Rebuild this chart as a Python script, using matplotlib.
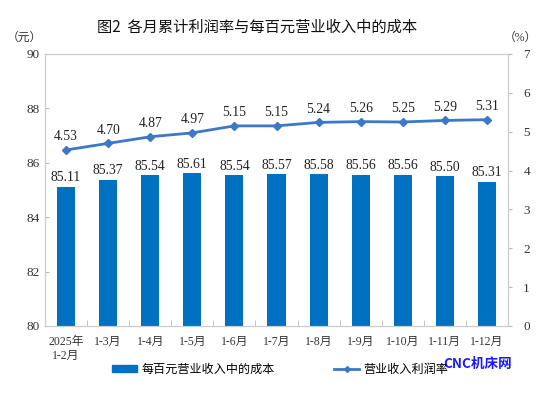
import matplotlib.pyplot as plt
import numpy as np
from matplotlib.patches import Patch
from matplotlib.lines import Line2D

cats = ['2025年\n1-2月', '1-3月', '1-4月', '1-5月', '1-6月', '1-7月',
        '1-8月', '1-9月', '1-10月', '1-11月', '1-12月']
cost = [85.11, 85.37, 85.54, 85.61, 85.54, 85.57, 85.58, 85.56, 85.56, 85.50, 85.31]
margin = [4.53, 4.70, 4.87, 4.97, 5.15, 5.15, 5.24, 5.26, 5.25, 5.29, 5.31]

fam = ['Liberation Serif', 'Noto Sans CJK SC']
plt.rcParams['font.family'] = fam

fig = plt.figure(figsize=(5.49, 3.93), dpi=100)
ax = fig.add_axes([45/549, 1-326/393, 463/549, 272/393])
x = np.arange(len(cats))

bar_c = '#0070C0'
line_c = '#3C78C8'
ax.bar(x, cost, width=0.43, color=bar_c, zorder=2)
for xi, v in zip(x, cost):
    ax.text(xi, v + 0.1, f'{v:.2f}', ha='center', va='bottom', fontsize=9.8, color='#222222')
ax.set_ylim(80, 90)
ax.set_yticks(np.arange(80, 91, 2))
ax.set_xlim(-0.5, len(cats) - 0.5)
ax.set_xticks(x)
ax.set_xticklabels(cats, fontsize=8.5, color='#333333', linespacing=1.3)
ax.tick_params(axis='x', length=0, pad=7)
ax.set_xticks(np.arange(0.5, len(cats) - 1, 1), minor=True)
ax.tick_params(axis='x', which='minor', direction='in', length=4, color='#bbbbbb')
ax.tick_params(axis='y', labelsize=9.5, direction='in', length=3, color='#bbbbbb', labelcolor='#333333')
for s in ax.spines.values():
    s.set_color('#cccccc')

ax2 = ax.twinx()
ax2.plot(x, margin, color=line_c, lw=2, marker='D', ms=4, zorder=3)
for xi, v in zip(x, margin):
    ax2.text(xi, v + 0.17, f'{v:.2f}', ha='center', va='bottom', fontsize=9.8, color='#222222')
ax2.set_ylim(0, 7)
ax2.set_yticks(range(0, 8))
ax2.tick_params(axis='y', labelsize=9.5, direction='out', length=3, color='#bbbbbb', labelcolor='#333333', pad=8)
for s in ax2.spines.values():
    s.set_color('#cccccc')

fig.text(257/549, 1-27/393, '图2  各月累计利润率与每百元营业收入中的成本', ha='center', va='center',
         fontsize=11, family=['Noto Sans CJK SC', 'DejaVu Sans'], color='#111111')
fig.text(24/549, 1-38/393, '（元）', ha='center', va='center', fontsize=8.5, color='#333333')
fig.text(520/549, 1-38/393, '（%）', ha='center', va='center', fontsize=8.5, color='#333333')

h = [Patch(color=bar_c), Line2D([], [], color=line_c, lw=2, marker='D', ms=3)]
fig.legend(h, ['每百元营业收入中的成本', '营业收入利润率'], loc='center', bbox_to_anchor=(280/549, 1-369/393),
           ncol=2, frameon=False, handlelength=2.1, handleheight=0.5, handletextpad=0.33,
           columnspacing=4.9, prop={'family': ['Noto Sans CJK SC'], 'size': 8.7})

fig.text(478/549, 1-364/393, 'CNC机床网', ha='center', va='center', fontsize=9.8, fontweight='bold',
         color='#1a1aff', family=['Noto Sans CJK SC'])

fig.savefig('out.png', dpi=100)
